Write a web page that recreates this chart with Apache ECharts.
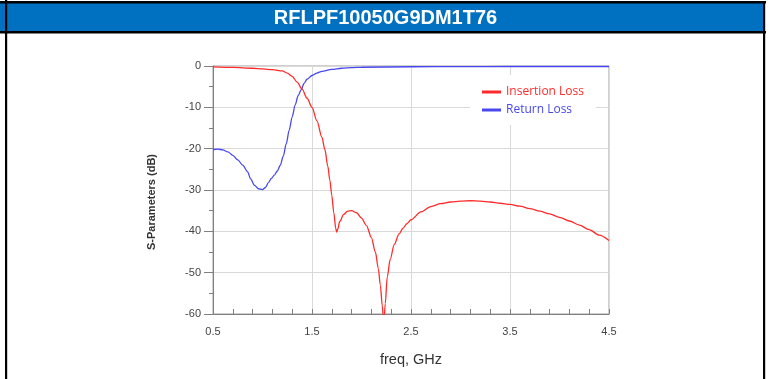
<!DOCTYPE html>
<html>
<head>
<meta charset="utf-8">
<script src="https://cdn.jsdelivr.net/npm/echarts@6/dist/echarts.min.js"></script>
<style>
html,body{margin:0;padding:0;background:#fff;}
#c{width:771px;height:379px;}
</style>
</head>
<body>
<div id="c"></div>
<script>
const titleText = 'RFLPF10050G9DM1T76';
const xTickLabels = ['0.5', '1.5', '2.5', '3.5', '4.5'];
const yTickLabels = ['0', '-10', '-20', '-30', '-40', '-50', '-60'];
const seriesNames = ['Insertion Loss', 'Return Loss'];
const xAxisTitle = 'freq, GHz';
const yAxisTitle = 'S-Parameters (dB)';

const ilFreq = [0.5, 0.7, 0.9, 1.0, 1.1, 1.2, 1.25, 1.3, 1.35, 1.4, 1.45, 1.5, 1.55, 1.6, 1.63, 1.66, 1.68, 1.70, 1.72, 1.74, 1.75, 1.76, 1.78, 1.82, 1.86, 1.90, 1.95, 2.00, 2.05, 2.10, 2.14, 2.17, 2.19, 2.21, 2.225, 2.24, 2.26, 2.29, 2.33, 2.38, 2.42, 2.46, 2.5, 2.6, 2.7, 2.8, 2.9, 3.0, 3.1, 3.2, 3.3, 3.4, 3.5, 3.6, 3.7, 3.8, 3.9, 4.0, 4.1, 4.2, 4.3, 4.4, 4.5];
const ilDb = [-0.2, -0.35, -0.55, -0.7, -0.9, -1.2, -1.7, -2.5, -3.9, -5.6, -7.8, -10.0, -13.3, -17.2, -20.2, -24.3, -27.6, -31.3, -35.5, -39.3, -40.2, -39.5, -37.6, -35.9, -35.1, -35.0, -35.5, -36.8, -38.6, -41.5, -45, -49, -53, -58, -63, -57.5, -51, -46.8, -43.2, -40.6, -39.2, -38.1, -37.2, -35.3, -34.0, -33.3, -32.9, -32.7, -32.6, -32.7, -32.9, -33.2, -33.5, -33.9, -34.5, -35.1, -35.8, -36.6, -37.5, -38.5, -39.6, -40.9, -42.2];

const rlFreq = [0.5, 0.55, 0.6, 0.65, 0.7, 0.75, 0.8, 0.85, 0.88, 0.92, 0.96, 1.0, 1.03, 1.06, 1.09, 1.12, 1.15, 1.18, 1.21, 1.24, 1.27, 1.30, 1.33, 1.36, 1.39, 1.42, 1.45, 1.5, 1.55, 1.6, 1.7, 1.8, 1.9, 2.0, 2.5, 3.0, 3.5, 4.0, 4.5];
const rlDb = [-20.2, -20.1, -20.3, -20.8, -21.6, -22.7, -24.0, -25.6, -27.3, -28.9, -29.7, -29.9, -29.4, -28.2, -27.2, -26.4, -25.4, -24.0, -21.8, -18.8, -15.5, -12.3, -9.4, -7.2, -5.8, -4.2, -3.2, -2.3, -1.7, -1.3, -0.8, -0.55, -0.4, -0.3, -0.18, -0.14, -0.12, -0.12, -0.12];

const ilData = ilFreq.map((f, i) => [f, ilDb[i]]);
const rlData = rlFreq.map((f, i) => [f, rlDb[i]]);

const RED = '#ff2b2b';
const BLUE = '#4848f0';
const FONT = 'Liberation Sans, Arial';

const chart = echarts.init(document.getElementById('c'), null, {renderer: 'canvas'});
chart.setOption({
  animation: false,
  backgroundColor: '#fff',
  title: {
    text: titleText,
    left: 'center',
    top: 8,
    padding: 0,
    textStyle: {color: '#fff', fontSize: 20, fontWeight: 'bold', fontFamily: FONT}
  },
  graphic: [
    {type: 'rect', shape: {x: 0, y: 3, width: 764, height: 29}, style: {fill: '#0070c0'}, z: -1},
    {type: 'rect', shape: {x: 0, y: 1, width: 766, height: 2.5}, style: {fill: '#000'}},
    {type: 'rect', shape: {x: 0, y: 31, width: 766, height: 2.5}, style: {fill: '#000'}},
    {type: 'rect', shape: {x: 5, y: 0, width: 2.2, height: 379}, style: {fill: '#000'}},
    {type: 'rect', shape: {x: 763, y: 1, width: 2.2, height: 378}, style: {fill: '#000'}},
    {type: 'text', x: 152, y: 202, rotation: Math.PI / 2,
     style: {text: yAxisTitle, fill: '#333', font: 'bold 11px ' + FONT, textAlign: 'center', textVerticalAlign: 'middle'}}
  ],
  grid: {left: 213, top: 66, right: 162, bottom: 65, show: true, borderColor: '#a0a0a0', borderWidth: 1, backgroundColor: 'transparent'},
  legend: {
    orient: 'vertical',
    left: 470,
    top: 75,
    padding: [10, 12, 8, 12],
    backgroundColor: '#fff',
    itemWidth: 19,
    itemHeight: 3,
    itemGap: 4,
    icon: 'rect',
    textStyle: {fontFamily: 'Open Sans', fontSize: 12, lineHeight: 14},
    data: [
      {name: seriesNames[0], textStyle: {color: RED}},
      {name: seriesNames[1], textStyle: {color: BLUE}}
    ]
  },
  xAxis: {
    type: 'value',
    min: 0.5, max: 4.5, interval: 1,
    name: xAxisTitle,
    nameLocation: 'middle',
    nameGap: 38,
    nameTextStyle: {fontFamily: FONT, fontSize: 14.5, color: '#333'},
    axisLine: {show: true, onZero: false, lineStyle: {color: '#808080', width: 1}},
    axisTick: {show: true, inside: true, length: 5, lineStyle: {color: '#808080'}},
    minorTick: {show: true, splitNumber: 5, length: 5, lineStyle: {color: '#808080'}},
    splitLine: {show: true, lineStyle: {color: '#d9d9d9', width: 1}},
    axisLabel: {
      margin: 12, color: '#444', fontSize: 11, fontFamily: FONT,
      formatter: v => xTickLabels[Math.round(v - 0.5)] || ''
    }
  },
  yAxis: {
    type: 'value',
    min: -60, max: 0, interval: 10,
    axisLine: {show: true, onZero: false, lineStyle: {color: '#808080', width: 1}},
    axisTick: {show: true, inside: false, length: 9, lineStyle: {color: '#808080'}},
    minorTick: {show: true, splitNumber: 2, length: 4, lineStyle: {color: '#808080'}},
    splitLine: {show: true, lineStyle: {color: '#d9d9d9', width: 1}},
    axisLabel: {
      margin: 12, color: '#444', fontSize: 11, fontFamily: FONT,
      formatter: v => yTickLabels[Math.round(-v / 10)] || ''
    }
  },
  series: [
    {name: seriesNames[0], type: 'line', data: ilData, showSymbol: false, smooth: 0.3, smoothMonotone: 'x', clip: true,
     lineStyle: {color: RED, width: 1.3}, itemStyle: {color: RED}, z: 3},
    {name: seriesNames[1], type: 'line', data: rlData, showSymbol: false, smooth: 0.3, smoothMonotone: 'x', clip: true,
     lineStyle: {color: BLUE, width: 1.3}, itemStyle: {color: BLUE}, z: 2}
  ]
});
</script>
</body>
</html>
